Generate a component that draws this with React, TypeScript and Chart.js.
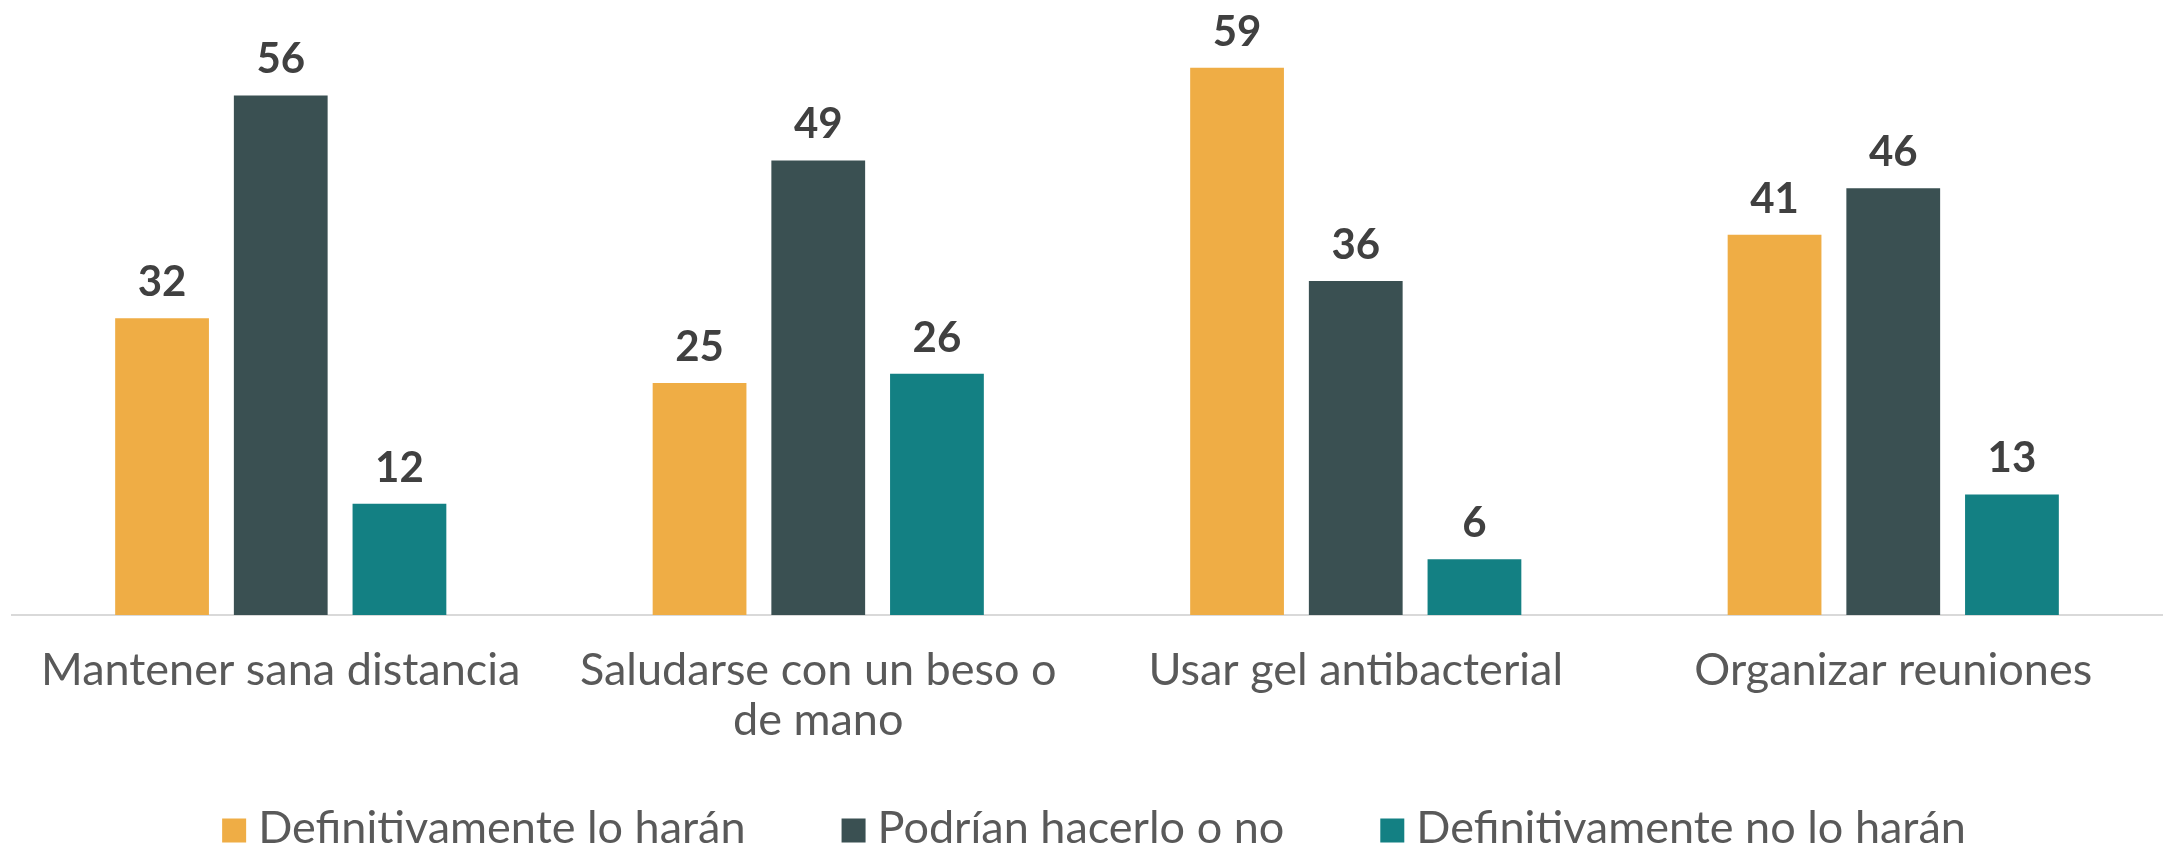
import React, { useEffect, useRef } from "react";
import { Chart, registerables } from "chart.js";

Chart.register(...registerables);

const categories: (string | string[])[] = [
  "Mantener sana distancia",
  ["Saludarse con un beso o", "de mano"],
  "Usar gel antibacterial",
  "Organizar reuniones",
];
const seriesNames = [
  "Definitivamente lo harán",
  "Podrían hacerlo o no",
  "Definitivamente no lo harán",
];
const definitivamenteSi = [32, 25, 59, 41];
const podrianHacerlo = [56, 49, 36, 46];
const definitivamenteNo = [12, 26, 6, 13];
const seriesColors = ["#EFAD45", "#3A5052", "#138083"];

const FONT = "Lato, 'Open Sans', sans-serif";

const valueLabels = {
  id: "valueLabels",
  afterDatasetsDraw(chart: any) {
    const ctx = chart.ctx;
    ctx.save();
    ctx.font = `bold 42px ${FONT}`;
    ctx.fillStyle = "#404040";
    ctx.textAlign = "center";
    ctx.textBaseline = "alphabetic";
    chart.data.datasets.forEach((ds: any, i: number) => {
      chart.getDatasetMeta(i).data.forEach((bar: any, j: number) => {
        ctx.fillText(String(ds.data[j]), bar.x, bar.y - 22);
      });
    });
    ctx.restore();
  },
};

const bottomLegend = {
  id: "bottomLegend",
  afterDraw(chart: any) {
    const ctx = chart.ctx;
    ctx.save();
    ctx.font = `45px ${FONT}`;
    ctx.textAlign = "left";
    ctx.textBaseline = "alphabetic";
    const box = 24;
    const gapText = 12;
    const gapItem = 96;
    const ds = chart.data.datasets;
    const widths = ds.map((d: any) => ctx.measureText(d.label).width);
    const total =
      widths.reduce((a: number, w: number) => a + box + gapText + w, 0) +
      gapItem * (ds.length - 1);
    const center = (chart.chartArea.left + chart.chartArea.right) / 2 + 7;
    let x = center - total / 2;
    const baseline = chart.height - 6.5;
    ds.forEach((d: any, i: number) => {
      ctx.fillStyle = d.backgroundColor;
      ctx.fillRect(x, baseline - 24, box, box);
      ctx.fillStyle = "#595959";
      ctx.fillText(d.label, x + box + gapText, baseline);
      x += box + gapText + widths[i] + gapItem;
    });
    ctx.restore();
  },
};

export default function App() {
  const ref = useRef<HTMLCanvasElement | null>(null);

  useEffect(() => {
    document.body.style.margin = "0";
    const canvas = ref.current!;
    const chart = new Chart(canvas, {
      type: "bar",
      data: {
        labels: categories,
        datasets: [
          { label: seriesNames[0], data: definitivamenteSi, backgroundColor: seriesColors[0] },
          { label: seriesNames[1], data: podrianHacerlo, backgroundColor: seriesColors[1] },
          { label: seriesNames[2], data: definitivamenteNo, backgroundColor: seriesColors[2] },
        ],
      },
      options: {
        animation: false,
        responsive: false,
        maintainAspectRatio: false,
        devicePixelRatio: 1,
        layout: { padding: { top: 12, left: 12, right: 1, bottom: 74 } },
        datasets: { bar: { categoryPercentage: 0.6625, barPercentage: 0.79 } },
        plugins: { legend: { display: false }, tooltip: { enabled: false } },
        scales: {
          x: {
            grid: { display: false, drawTicks: false },
            border: { display: true, color: "#D9D9D9", width: 2 },
            ticks: {
              font: { family: FONT, size: 45, lineHeight: "50px" },
              color: "#595959",
              padding: 30,
              maxRotation: 0,
              autoSkip: false,
            },
          },
          y: { display: false, min: 0, max: 65 },
        },
      },
      plugins: [valueLabels, bottomLegend],
    });
    return () => chart.destroy();
  }, []);

  return (
    <canvas
      ref={ref}
      width={2163}
      height={849}
      style={{ display: "block", width: 2163, height: 849 }}
    />
  );
}
